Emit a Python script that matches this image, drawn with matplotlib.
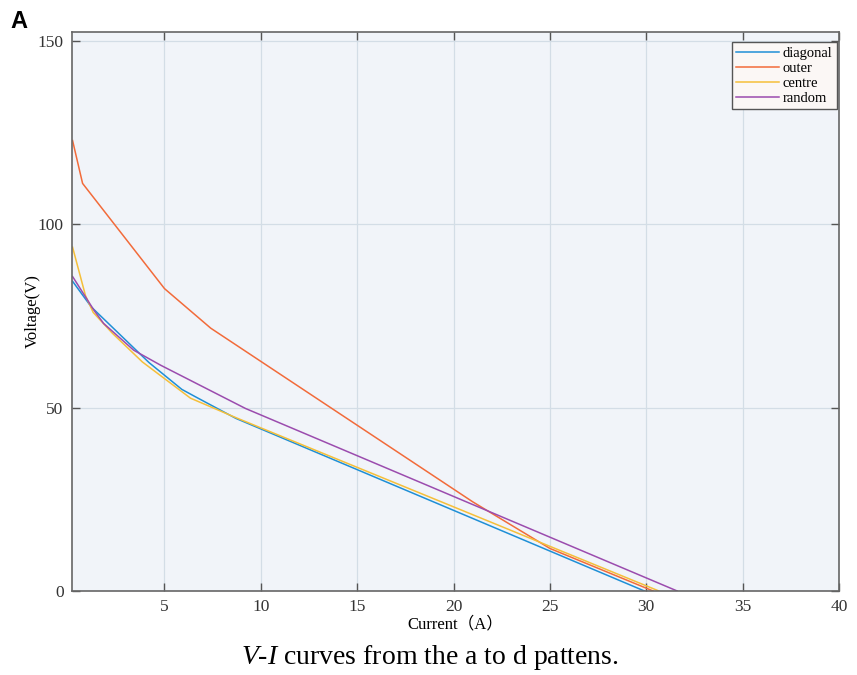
import matplotlib
matplotlib.use("Agg")
import matplotlib.pyplot as plt

plt.rcParams["font.family"] = ["Liberation Serif", "Noto Sans CJK SC"]
plt.rcParams["mathtext.fontset"] = "custom"
plt.rcParams["mathtext.it"] = "Liberation Serif:italic"
plt.rcParams["mathtext.rm"] = "Liberation Serif"

# V-I curves for the four shading patterns (current in A, voltage in V)
diag_i = [0.23, 1.2, 4.2, 5.9, 6.6, 8.7, 29.9]
diag_v = [84.5, 77.5, 62.3, 55.0, 53.0, 47.1, 0.0]

outer_i = [0.23, 0.75, 5.0, 7.4, 21.0, 25.0, 30.35]
outer_v = [122.9, 111.2, 82.5, 71.7, 24.3, 11.6, 0.0]

centre_i = [0.23, 0.9, 1.3, 2.3, 3.85, 6.35, 8.7, 30.65]
centre_v = [93.8, 80.6, 76.0, 70.3, 62.5, 52.6, 47.3, 0.0]

random_i = [0.23, 1.34, 1.84, 3.4, 4.8, 9.2, 31.6]
random_v = [85.8, 76.6, 73.0, 65.7, 61.6, 49.8, 0.0]

series = [
    ("diagonal", diag_i, diag_v, "#1f8fd6"),
    ("outer", outer_i, outer_v, "#f26b3a"),
    ("centre", centre_i, centre_v, "#f5bf3a"),
    ("random", random_i, random_v, "#9b4cae"),
]

xticks = [5, 10, 15, 20, 25, 30, 35, 40]
yticks = [0, 50, 100, 150]

fig = plt.figure(figsize=(8.57, 6.75), dpi=100)
ax = fig.add_axes([0.084, 0.1245, 0.895, 0.828])
ax.set_facecolor("#f1f4f9")

for name, i, v, c in series:
    ax.plot(i, v, color=c, lw=1.1, label=name)

ax.set_xlim(0.2, 40)
ax.set_ylim(0, 152.5)
ax.set_xticks(xticks)
ax.set_yticks(yticks)
ax.grid(True, color="#d3dde6", lw=0.9)
ax.set_axisbelow(True)
ax.tick_params(direction="in", length=6, width=1, color="#555555",
               labelsize=12.5, labelcolor="#333333", top=True, right=True, pad=6)
for s in ax.spines.values():
    s.set_color("#666666")
    s.set_linewidth(1.2)

ax.set_xlabel("Current（A）", fontsize=12, labelpad=1)
ax.set_ylabel("Voltage(V)", fontsize=12, labelpad=-2)

leg = ax.legend(loc="upper right", fontsize=10.5, handlelength=2.9, handletextpad=0.3,
                labelspacing=0.12, borderpad=0.3, fancybox=False,
                bbox_to_anchor=(1.007, 0.995))
leg.get_frame().set_edgecolor("#555555")
leg.get_frame().set_facecolor("#fbf7f5")
leg.get_frame().set_linewidth(1.0)
leg.get_frame().set_alpha(1)

fig.text(0.012, 0.968, "A", fontsize=17, fontweight="bold", family="Liberation Sans",
         va="center", ha="left")
fig.text(0.502, 0.026, r"$V$-$I$ curves from the a to d pattens.", fontsize=20,
         ha="center", va="center")

fig.savefig("out.png", dpi=100)
